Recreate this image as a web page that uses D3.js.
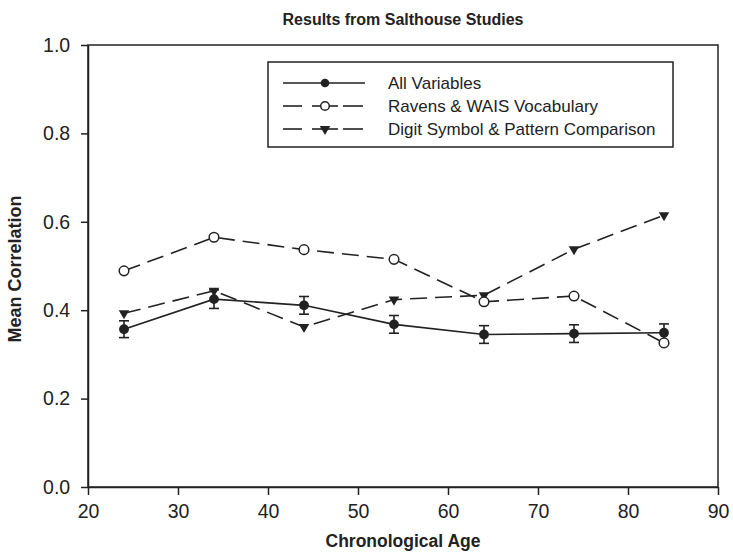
<!DOCTYPE html>
<html>
<head>
<meta charset="utf-8">
<script src="https://cdn.jsdelivr.net/npm/d3@7"></script>
<style>
  body { margin: 0; background: #fff; }
  svg text { font-family: "Liberation Sans", Arial, Helvetica, sans-serif; fill: #222; }
</style>
</head>
<body>
<svg id="chart" width="733" height="555"></svg>
<script>
// Mean correlations by age decade
const ages = [24, 34, 44, 54, 64, 74, 84];
const allVariables = [0.357, 0.425, 0.411, 0.368, 0.345, 0.347, 0.349];
const allVariablesErr = [0.019, 0.021, 0.020, 0.020, 0.020, 0.020, 0.020];
const ravensVocab = [0.489, 0.565, 0.537, 0.515, 0.419, 0.432, 0.326];
const digitPattern = [0.393, 0.444, 0.362, 0.424, 0.434, 0.538, 0.615];

const xTicks = [20, 30, 40, 50, 60, 70, 80, 90];
const yTicks = [0.0, 0.2, 0.4, 0.6, 0.8, 1.0];
const seriesNames = ["All Variables", "Ravens & WAIS Vocabulary", "Digit Symbol & Pattern Comparison"];

const ink = "#222";
const svg = d3.select("#chart");
const margin = { left: 88, right: 15, top: 45, bottom: 68 };
const W = 733, H = 555;

const x = d3.scaleLinear().domain([20, 90]).range([margin.left, W - margin.right]);
const y = d3.scaleLinear().domain([0, 1]).range([H - margin.bottom, margin.top]);

// frame
svg.append("rect")
  .attr("x", x(20)).attr("y", y(1))
  .attr("width", x(90) - x(20)).attr("height", y(0) - y(1))
  .attr("fill", "none").attr("stroke", ink).attr("stroke-width", 1.5);

// axes
const xAxis = svg.append("g")
  .attr("transform", `translate(0,${y(0)})`)
  .call(d3.axisBottom(x).tickValues(xTicks).tickFormat(d3.format("d")).tickSize(8).tickSizeOuter(0));
const yAxis = svg.append("g")
  .attr("transform", `translate(${x(20)},0)`)
  .call(d3.axisLeft(y).tickValues(yTicks).tickFormat(d3.format(".1f")).tickSize(7).tickSizeOuter(0));
[xAxis, yAxis].forEach(g => {
  g.select(".domain").attr("stroke", ink).attr("stroke-width", 1.5);
  g.selectAll(".tick line").attr("stroke", ink).attr("stroke-width", 1.5);
  g.selectAll(".tick text").attr("font-size", 19.5).attr("fill", ink)
    .attr("font-family", "'Liberation Sans', Arial, sans-serif");
});
xAxis.selectAll(".tick text").attr("dy", "1.0em");
yAxis.selectAll(".tick text").attr("dx", "-0.4em");

// titles
svg.append("text").attr("x", (x(20) + x(90)) / 2).attr("y", 25)
  .attr("text-anchor", "middle").attr("font-size", 16).attr("font-weight", "bold")
  .text("Results from Salthouse Studies");
svg.append("text").attr("x", (x(20) + x(90)) / 2).attr("y", 547)
  .attr("text-anchor", "middle").attr("font-size", 17.5).attr("font-weight", "bold")
  .text("Chronological Age");
svg.append("text")
  .attr("transform", `translate(21,${(y(0) + y(1)) / 2 + 3}) rotate(-90)`)
  .attr("text-anchor", "middle").attr("font-size", 18).attr("font-weight", "bold")
  .text("Mean Correlation");

const line = d3.line().x(d => x(d[0])).y(d => y(d[1]));
const tri = d3.symbol().type(d3.symbolTriangle).size(48);
const dash = "17,8";

// series lines
svg.append("path").datum(d3.zip(ages, digitPattern)).attr("d", line)
  .attr("fill", "none").attr("stroke", ink).attr("stroke-width", 1.6).attr("stroke-dasharray", dash);
svg.append("path").datum(d3.zip(ages, ravensVocab)).attr("d", line)
  .attr("fill", "none").attr("stroke", ink).attr("stroke-width", 1.6).attr("stroke-dasharray", dash);
svg.append("path").datum(d3.zip(ages, allVariables)).attr("d", line)
  .attr("fill", "none").attr("stroke", ink).attr("stroke-width", 1.6);

// error bars on All Variables
const eb = svg.append("g").attr("stroke", ink).attr("stroke-width", 1.6);
ages.forEach((a, i) => {
  const lo = y(allVariables[i] - allVariablesErr[i]), hi = y(allVariables[i] + allVariablesErr[i]);
  eb.append("line").attr("x1", x(a)).attr("x2", x(a)).attr("y1", lo).attr("y2", hi);
  eb.append("line").attr("x1", x(a) - 5).attr("x2", x(a) + 5).attr("y1", lo).attr("y2", lo);
  eb.append("line").attr("x1", x(a) - 5).attr("x2", x(a) + 5).attr("y1", hi).attr("y2", hi);
});

// markers
svg.append("g").selectAll("path").data(d3.zip(ages, digitPattern)).join("path")
  .attr("d", tri).attr("transform", d => `translate(${x(d[0])},${y(d[1])}) rotate(180)`)
  .attr("fill", ink);
svg.append("g").selectAll("circle").data(d3.zip(ages, ravensVocab)).join("circle")
  .attr("cx", d => x(d[0])).attr("cy", d => y(d[1])).attr("r", 4.8)
  .attr("fill", "#fff").attr("stroke", ink).attr("stroke-width", 1.5);
svg.append("g").selectAll("circle").data(d3.zip(ages, allVariables)).join("circle")
  .attr("cx", d => x(d[0])).attr("cy", d => y(d[1])).attr("r", 4.9)
  .attr("fill", ink);

// legend
const lg = svg.append("g");
lg.append("rect").attr("x", 268).attr("y", 62).attr("width", 405).attr("height", 85)
  .attr("fill", "#fff").attr("stroke", ink).attr("stroke-width", 1.5);
const rowY = [83, 106, 129];
const lx0 = 283, lx1 = 365, lxm = 325;
seriesNames.forEach((name, i) => {
  const yy = rowY[i];
  if (i === 0) {
    lg.append("line").attr("x1", lx0).attr("x2", lx1).attr("y1", yy).attr("y2", yy)
      .attr("stroke", ink).attr("stroke-width", 1.6);
    lg.append("circle").attr("cx", lxm).attr("cy", yy).attr("r", 4.3).attr("fill", ink);
  } else {
    [[lx0, 302], [312, 338], [343, 363]].forEach(s => {
      lg.append("line").attr("x1", s[0]).attr("x2", s[1]).attr("y1", yy).attr("y2", yy)
        .attr("stroke", ink).attr("stroke-width", 1.6);
    });
    if (i === 1) {
      lg.append("circle").attr("cx", lxm).attr("cy", yy).attr("r", 4.3)
        .attr("fill", "#fff").attr("stroke", ink).attr("stroke-width", 1.5);
    } else {
      lg.append("path").attr("d", tri).attr("transform", `translate(${lxm},${yy}) rotate(180)`)
        .attr("fill", ink);
    }
  }
  lg.append("text").attr("x", 388).attr("y", yy).attr("dy", "0.36em")
    .attr("font-size", 17).text(name);
});
</script>
</body>
</html>
